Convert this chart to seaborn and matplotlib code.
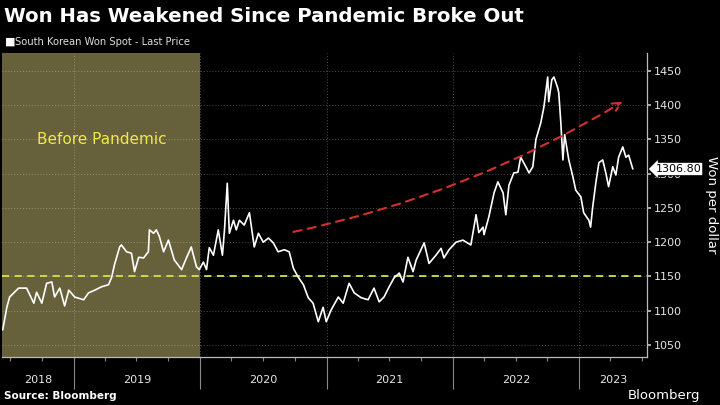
import matplotlib
matplotlib.use('Agg')
import pandas as pd
import matplotlib.pyplot as plt
import matplotlib.dates as mdates
import seaborn as sns

# South Korean won spot
dates = [
    "2018-06-10", "2018-06-22", "2018-06-30", "2018-07-26", "2018-08-18", "2018-09-08",
    "2018-09-16", "2018-10-01", "2018-10-15", "2018-10-30", "2018-11-07", "2018-11-22",
    "2018-12-06", "2018-12-18", "2019-01-04", "2019-01-30", "2019-02-13", "2019-03-03",
    "2019-03-23", "2019-04-12", "2019-04-21", "2019-04-29", "2019-05-14", "2019-05-19",
    "2019-06-03", "2019-06-17", "2019-06-26", "2019-07-08", "2019-07-22", "2019-08-05",
    "2019-08-08", "2019-08-20", "2019-08-28", "2019-09-06", "2019-09-18", "2019-10-02",
    "2019-10-19", "2019-11-09", "2019-11-23", "2019-12-07", "2019-12-22", "2019-12-30",
    "2020-01-11", "2020-01-20", "2020-01-28", "2020-02-09", "2020-02-23", "2020-03-06",
    "2020-03-12", "2020-03-20", "2020-03-26", "2020-04-07", "2020-04-15", "2020-04-24",
    "2020-05-08", "2020-05-23", "2020-06-06", "2020-06-18", "2020-07-02", "2020-07-17",
    "2020-07-31", "2020-08-14", "2020-09-01", "2020-09-15", "2020-09-27", "2020-10-11",
    "2020-10-26", "2020-11-09", "2020-11-23", "2020-12-08", "2020-12-22", "2020-12-31",
    "2021-01-14", "2021-02-04", "2021-02-18", "2021-03-07", "2021-03-22", "2021-04-11",
    "2021-05-01", "2021-05-18", "2021-06-02", "2021-06-16", "2021-07-01", "2021-07-15",
    "2021-07-30", "2021-08-10", "2021-08-24", "2021-09-08", "2021-09-17", "2021-10-10",
    "2021-10-24", "2021-11-13", "2021-11-28", "2021-12-06", "2021-12-21", "2022-01-10",
    "2022-01-30", "2022-02-22", "2022-03-09", "2022-03-17", "2022-03-29", "2022-04-01",
    "2022-04-15", "2022-04-30", "2022-05-11", "2022-05-26", "2022-06-03", "2022-06-12",
    "2022-06-26", "2022-07-08", "2022-07-16", "2022-07-31", "2022-08-09", "2022-08-20",
    "2022-08-29", "2022-09-12", "2022-09-21", "2022-10-02", "2022-10-05", "2022-10-14",
    "2022-10-20", "2022-10-31", "2022-11-03", "2022-11-09", "2022-11-15", "2022-11-20",
    "2022-12-02", "2022-12-14", "2022-12-22", "2023-01-06", "2023-01-14", "2023-01-29",
    "2023-02-03", "2023-02-09", "2023-02-18", "2023-02-27", "2023-03-10", "2023-03-19",
    "2023-03-27", "2023-04-08", "2023-04-17", "2023-04-25", "2023-05-07", "2023-05-16",
    "2023-05-24", "2023-06-05",
]
won = [
    1072, 1105, 1120, 1133, 1133, 1111,
    1127, 1111, 1140, 1142, 1120, 1133,
    1107, 1130, 1120, 1116, 1126, 1130,
    1135, 1138, 1149, 1167, 1193, 1196,
    1186, 1184, 1157, 1178, 1177, 1186,
    1218, 1213, 1218, 1208, 1186, 1203,
    1174, 1160, 1177, 1193, 1164, 1160,
    1171, 1160, 1192, 1181, 1218, 1181,
    1218, 1286, 1213, 1232, 1218, 1232,
    1225, 1243, 1193, 1213, 1200, 1206,
    1199, 1186, 1189, 1186, 1162, 1149,
    1138, 1119, 1111, 1084, 1105, 1084,
    1101, 1120, 1111, 1140, 1126, 1119,
    1116, 1133, 1113, 1120, 1135, 1148,
    1155, 1142, 1178, 1157, 1174, 1199,
    1169, 1181, 1191, 1177, 1189, 1200,
    1203, 1196, 1240, 1214, 1222, 1211,
    1237, 1272, 1288, 1272, 1240, 1283,
    1301, 1302, 1324, 1310, 1301, 1310,
    1350, 1374, 1397, 1441, 1405, 1437,
    1441, 1425, 1418, 1374, 1320, 1357,
    1320, 1295, 1276, 1266, 1243, 1232,
    1222, 1251, 1286, 1316, 1320, 1301,
    1281, 1310, 1298, 1324, 1339, 1324,
    1327, 1306.80,
]

years = [2018, 2019, 2020, 2021, 2022, 2023]
y_ticks = [1050, 1100, 1150, 1200, 1250, 1300, 1350, 1400, 1450]
pandemic_start = "2020-01-01"
threshold = 1150
trend_start = ("2020-09-27", 1215)
trend_end = ("2023-05-07", 1405)

df = pd.DataFrame({"date": pd.to_datetime(dates), "won": won})

sns.set_theme(style="dark")
plt.rcParams['font.family'] = ['DejaVu Sans']

fig = plt.figure(figsize=(7.2, 4.05), dpi=100, facecolor='black')
ax = fig.add_axes([2 / 720, 48 / 405, 645 / 720, 304 / 405])
ax.set_facecolor('black')

x0 = pd.Timestamp("2018-06-08")
x1 = pd.Timestamp("2023-07-16")

ax.axvspan(x0, pd.Timestamp(pandemic_start), color='#66613a', zorder=0, lw=0)
ax.axhline(threshold, color='#d5e04c', lw=1.3, ls=(0, (4, 3)), zorder=2)

sns.lineplot(data=df, x="date", y="won", ax=ax, color='white', lw=1.2, zorder=3)

ax.annotate("", xy=(pd.Timestamp(trend_end[0]), trend_end[1]),
            xytext=(pd.Timestamp(trend_start[0]), trend_start[1]),
            arrowprops=dict(arrowstyle='->', color='#d42f2f', lw=1.5,
                            linestyle=(0, (4, 3)), shrinkA=0, shrinkB=0,
                            connectionstyle='arc3,rad=0.085', mutation_scale=15),
            zorder=4)

ax.text(pd.Timestamp("2019-03-23"), 1350, "Before Pandemic", color='#f2e94e',
        fontsize=11, ha='center', va='center')

ax.set_xlim(x0, x1)
ax.set_ylim(1032.5, 1476)

ax.yaxis.tick_right()
ax.yaxis.set_label_position('right')
ax.set_yticks(y_ticks)
ax.set_yticklabels([str(v) for v in y_ticks])
ax.set_ylabel("Won per dollar", color='white', fontsize=9.5, rotation=270, va='center')
ax.yaxis.set_label_coords(1.1, 0.5)
ax.set_xlabel("")
ax.tick_params(axis='y', which='major', length=3, color='#bbbbbb', labelcolor='#e6e6e6',
               labelsize=8, pad=2, right=True, left=False)

ax.xaxis.set_major_locator(mdates.YearLocator())
ax.xaxis.set_minor_locator(mdates.MonthLocator(bymonth=[4, 7, 10]))
ax.xaxis.set_major_formatter(plt.NullFormatter())
ax.tick_params(axis='x', which='major', length=23, color='#888888', width=0.8, bottom=True)
ax.tick_params(axis='x', which='minor', length=3, color='#888888', width=0.8, bottom=True)

ax.grid(True, which='major', color='white', alpha=0.3, lw=0.7, ls=(0, (1, 2)))
ax.set_axisbelow(True)

for side in ['left', 'top']:
    ax.spines[side].set_visible(False)
for side in ['bottom', 'right']:
    ax.spines[side].set_visible(True)
    ax.spines[side].set_color('#bbbbbb')
    ax.spines[side].set_linewidth(0.9)

# year labels centred in each visible year
for yr in years:
    a = max(pd.Timestamp(f"{yr}-01-01"), x0)
    b = min(pd.Timestamp(f"{yr + 1}-01-01"), x1)
    ax.text(a + (b - a) / 2, -0.075, str(yr), transform=ax.get_xaxis_transform(),
            ha='center', va='center', color='#e6e6e6', fontsize=8)

# last price tag
ax.annotate(f"{won[-1]:.2f}", xy=(1.0, won[-1]), xycoords=ax.get_yaxis_transform(),
            xytext=(6, 0), textcoords='offset points', ha='left', va='center',
            fontsize=8, color='black', zorder=6,
            bbox=dict(boxstyle='larrow,pad=0.15', fc='white', ec='black', lw=0.6))

fig.text(4 / 720, 1 - 17 / 405, "Won Has Weakened Since Pandemic Broke Out",
         color='white', fontsize=14.2, fontweight='bold', ha='left', va='center')
fig.text(5 / 720, 1 - 42 / 405, "\u25a0", color='white', fontsize=8, ha='left', va='center')
fig.text(15 / 720, 1 - 42 / 405, "South Korean Won Spot - Last Price",
         color='#dddddd', fontsize=7.2, ha='left', va='center')
fig.text(4 / 720, 1 - 396 / 405, "Source: Bloomberg", color='white', fontsize=7.5,
         fontweight='bold', ha='left', va='center')
fig.text(700 / 720, 1 - 395 / 405, "Bloomberg", color='white', fontsize=9.5,
         ha='right', va='center')

fig.savefig("out.png", dpi=100, facecolor='black')
